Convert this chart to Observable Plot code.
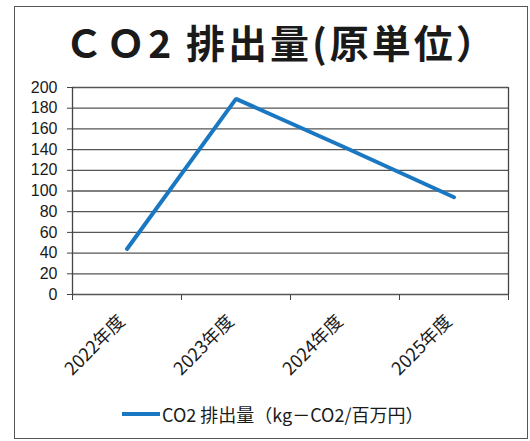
<!DOCTYPE html>
<html>
<head>
<meta charset="utf-8">
<script src="https://cdn.jsdelivr.net/npm/d3@7"></script>
<script src="https://cdn.jsdelivr.net/npm/@observablehq/plot@0.6"></script>
<style>
  body { margin: 0; background: #fff; font-family: "Noto Sans CJK JP", "Liberation Sans", sans-serif; }
  #wrap { position: relative; width: 530px; height: 441px; overflow: hidden; }
  #border { position: absolute; left: 14px; top: 6px; width: 514px; height: 433px; border: 1.5px solid #555; box-sizing: border-box; }
  #title { position: absolute; left: 32px; top: 16px; width: 498px; text-align: center; font-size: 39px; font-weight: bold; color: #1a1a1a; line-height: 50px; letter-spacing: 3px; }
  #chart { position: absolute; left: 0; top: 70px; }
  #legend { position: absolute; left: 122px; top: 401px; height: 26px; display: flex; align-items: center; font-size: 18px; color: #1a1a1a; }
  #legend .sw { width: 38px; height: 4px; background: #1a78c2; margin-right: 2px; }
</style>
</head>
<body>
<div id="wrap">
  <div id="border"></div>
  <div id="title">ＣＯ2 排出量(原単位）</div>
  <div id="chart"></div>
  <div id="legend"><span class="sw"></span><span id="legendText"></span></div>
</div>
<script>
const categories = ["2022年度", "2023年度", "2024年度", "2025年度"];
const values = [44, 189, 142, 94];
const seriesName = "CO2 排出量（kg－CO2/百万円）";
const yTicks = [0, 20, 40, 60, 80, 100, 120, 140, 160, 180, 200];

const data = categories.map((c, i) => ({i, c, v: values[i]}));
const boundaries = d3.range(categories.length + 1).map(k => k - 0.5);

document.getElementById("legendText").textContent = seriesName;

const plot = Plot.plot({
  width: 530,
  height: 325,
  marginLeft: 72,
  marginRight: 22,
  marginTop: 17,
  marginBottom: 101,
  style: {fontFamily: "'Noto Sans CJK JP', 'Liberation Sans', sans-serif", fontSize: "16px", color: "#1a1a1a", background: "transparent"},
  x: {type: "linear", domain: [-0.5, categories.length - 0.5]},
  y: {type: "linear", domain: [0, 200]},
  marks: [
    Plot.ruleY(yTicks, {stroke: "#555", strokeWidth: 1.3}),
    Plot.ruleX([-0.5, categories.length - 0.5], {stroke: "#444", strokeWidth: 1.3}),
    Plot.axisY({ticks: yTicks, tickSize: 5, tickPadding: 10, stroke: "#444", fontSize: 16, fontFamily: "'Liberation Sans', sans-serif", label: null}),
    Plot.axisX({ticks: boundaries, tickSize: 6, tickFormat: () => "", stroke: "#444", label: null}),
    Plot.axisX({ticks: d3.range(categories.length), tickFormat: i => categories[i], tickSize: 0, tickPadding: 24, dx: -5, tickRotate: -45, fontSize: 18, label: null}),
    Plot.lineY(data, {x: "i", y: "v", stroke: "#1a78c2", strokeWidth: 4, strokeLinejoin: "miter"})
  ]
});
document.getElementById("chart").appendChild(plot);
</script>
</body>
</html>
